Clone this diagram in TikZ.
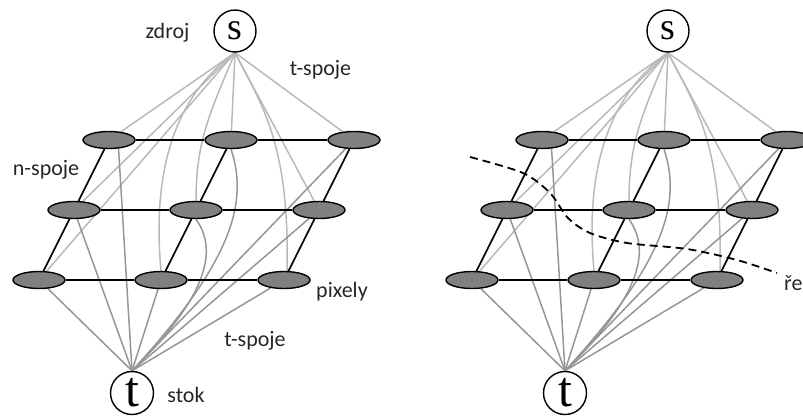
\documentclass[tikz,border=0pt]{standalone}
\usepackage{fontspec}
\setmainfont{Carlito}
\newfontfamily\termfont{Liberation Serif}
\usetikzlibrary{shapes.geometric}
\definecolor{pixgray}{RGB}{128,128,128}
\definecolor{sgray}{RGB}{185,185,185}
\definecolor{tgray}{RGB}{150,150,150}
\pgfdeclarelayer{edges}
\pgfsetlayers{edges,main}
\tikzset{
  pix/.style={ellipse, draw=black, line width=1.4pt, fill=pixgray, minimum width=52pt, minimum height=17pt, inner sep=0pt},
  term/.style={circle, draw=black, line width=1.4pt, fill=white, minimum size=42pt, inner sep=0pt},
  nlink/.style={draw=black, line width=1.6pt},
  slink/.style={draw=sgray, line width=1.5pt},
  tlink/.style={draw=tgray, line width=1.5pt},
  cutline/.style={draw=black, line width=1.8pt, dash pattern=on 8pt off 5pt},
  lbl/.style={font=\fontsize{22}{22}\selectfont, inner sep=0pt, text=black!85},
}
\newcommand\drawcutgraph[2]{%
\begin{scope}[xshift=#2pt, name prefix=#1-]
  \node[term] (s) at (235,-31) {\termfont\fontsize{38}{38}\selectfont s};
  \node[term, minimum size=43pt] (t) at (132,-393) {\termfont\fontsize{50}{50}\selectfont t};
  \node[pix] (a1) at (109,-140) {};
  \node[pix] (a2) at (231,-140) {};
  \node[pix] (a3) at (354,-140) {};
  \node[pix] (b1) at (74,-210) {};
  \node[pix] (b2) at (196,-210) {};
  \node[pix] (b3) at (319,-210) {};
  \node[pix] (c1) at (39,-280) {};
  \node[pix] (c2) at (161,-280) {};
  \node[pix] (c3) at (284,-280) {};
  \begin{pgfonlayer}{edges}
    % t-links from source
    \draw[slink] (s.south) -- (a1);
    \draw[slink] (s.south) -- (a2);
    \draw[slink] (s.south) -- (a3);
    \draw[slink] (s.south) -- (b1);
    \draw[slink] (s.south) -- (b3);
    \draw[slink] (s.south) -- (c1);
    \draw[slink] (s.south) .. controls +(-25,-60) and +(0,60) .. (b2.north);
    \draw[slink] (s.south) .. controls +(-55,-40) and +(-10,110) .. (c2.north);
    \draw[slink] (s.south) .. controls +(25,-50) and +(3,130) .. ([xshift=3pt]c3.north);
    % t-links to sink
    \draw[tlink] (a1.-42) -- (t.north);
    \draw[tlink] (a3) -- (t.north);
    \draw[tlink] (b1) -- (t.north);
    \draw[tlink] (b3) -- (t.north);
    \draw[tlink] (c1) -- (t.north);
    \draw[tlink] (c2) -- (t.north);
    \draw[tlink] (c3) -- (t.north);
    \draw[tlink] (a2.south) .. controls +(17,-51) and +(103,112) .. (t.north);
    \draw[tlink] (b2.south) .. controls +(19,-27) and +(83,82) .. (t.north);
    % n-links
    \draw[nlink] (a1) -- (a2);
    \draw[nlink] (a2) -- (a3);
    \draw[nlink] (b1) -- (b2);
    \draw[nlink] (b2) -- (b3);
    \draw[nlink] (c1) -- (c2);
    \draw[nlink] (c2) -- (c3);
    \draw[nlink] (a1) -- (b1);
    \draw[nlink] (b1) -- (c1);
    \draw[nlink] (a2) -- (b2);
    \draw[nlink] (b2) -- (c2);
    \draw[nlink] (a3) -- (b3);
    \draw[nlink] (b3) -- (c3);
  \end{pgfonlayer}
\end{scope}}
\begin{document}
\begin{tikzpicture}[x=1pt, y=1pt]
  \useasboundingbox (0,0) rectangle (803,-418);
  \clip (0,0) rectangle (803,-418);
  \drawcutgraph{L}{0}
  \drawcutgraph{R}{433}
  % labels
  \node[lbl] (zdroj) at (167.5,-32.5) {zdroj};
  \node[lbl] (tspojeA) at (320.5,-70) {t-spoje};
  \node[lbl] (nspoje) at (46,-170) {n-spoje};
  \node[lbl] (pixely) at (342,-292) {pixely};
  \node[lbl] (tspojeB) at (255,-341) {t-spoje};
  \node[lbl] (stok) at (186,-395) {stok};
  \node[lbl, anchor=west] (rez) at (784,-283) {ře};
  % cut
  \draw[cutline] plot[smooth] coordinates {(470,-157) (523,-173) (550,-193) (568,-218) (590,-233) (627,-243) (687,-249) (737,-260) (777,-273)};
\end{tikzpicture}
\end{document}
